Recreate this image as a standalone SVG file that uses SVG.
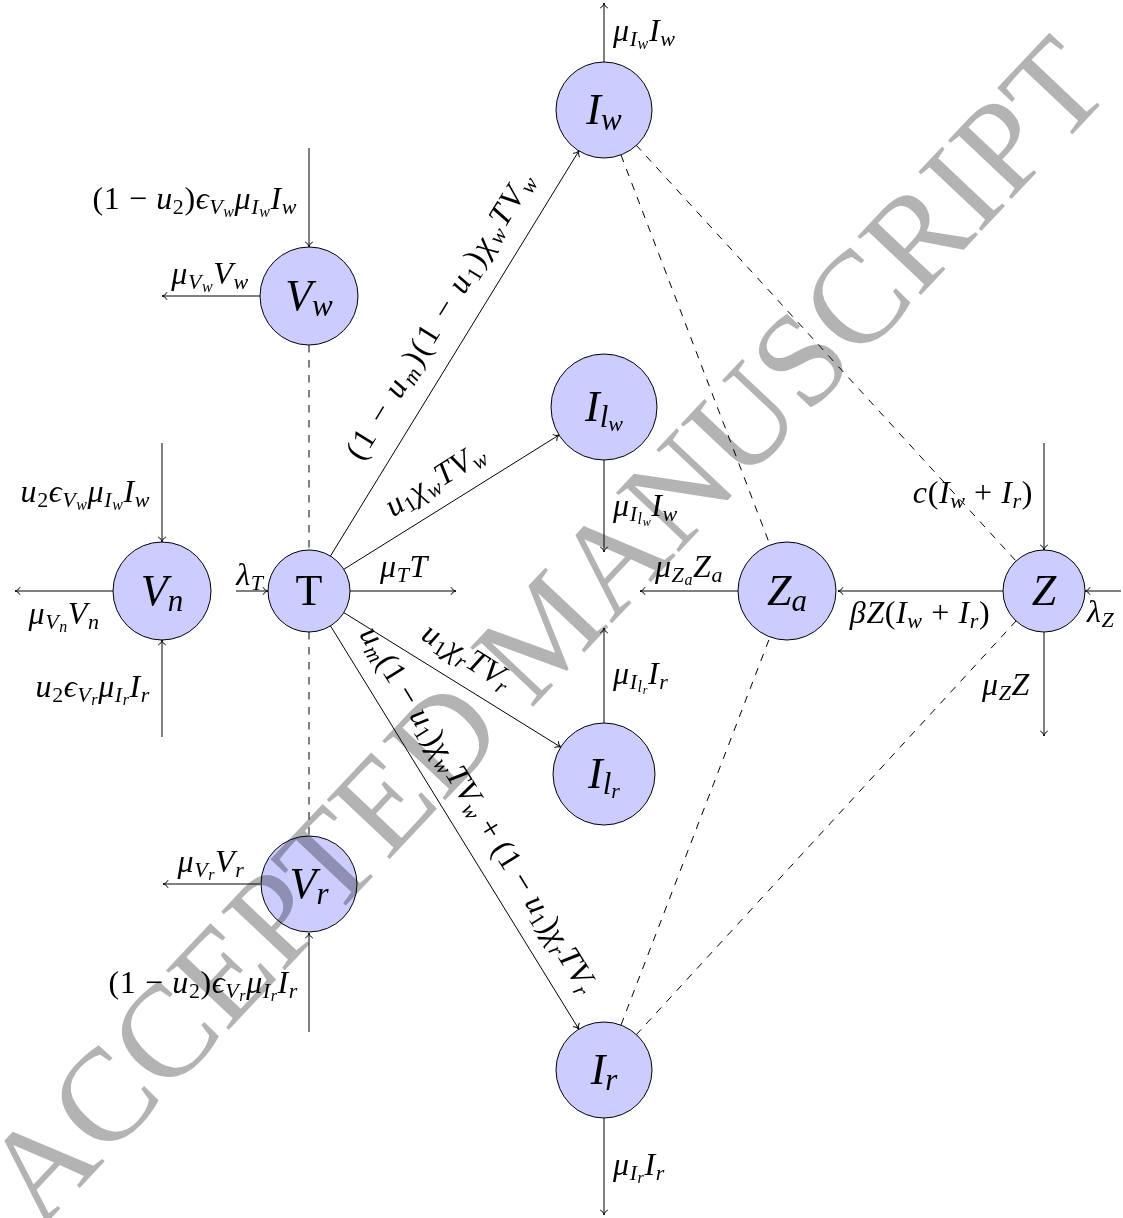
<svg xmlns="http://www.w3.org/2000/svg" width="1123" height="1218" viewBox="0 0 1123 1218">
<style>
.node circle{fill:#ccccff;stroke:#000;stroke-width:1}
.nl{font-family:"Liberation Serif","DejaVu Serif",serif;font-style:italic;font-size:44px;text-anchor:middle;fill:#000}
.ns{font-size:31px}
.nss{font-size:22px}
.m{font-family:"Liberation Serif","DejaVu Serif",serif;font-style:italic;font-size:32px;letter-spacing:0.6px;fill:#000}
.r{font-style:normal}
.s{font-size:22px}
.ss{font-size:16px}
.e{stroke:#000;stroke-width:1;fill:none}
.a{marker-end:url(#ah)}
.d{stroke-dasharray:7.5 7.5}
.wm{font-family:"Liberation Serif","Times New Roman",serif;font-size:132px;fill:#b3b3b3;mix-blend-mode:multiply}
</style>
<defs>
<marker id="ah" markerUnits="userSpaceOnUse" markerWidth="12" markerHeight="12" refX="0" refY="0" orient="auto" overflow="visible">
<path d="M-5,-3.8 C-4,-1.5 -1.5,-0.4 0,0 C-1.5,0.4 -4,1.5 -5,3.8" fill="none" stroke="#000" stroke-width="1"/>
</marker>
</defs>
<rect width="1123" height="1218" fill="#fff"/>
<g id="connectors">
<line class="e a" x1="330.4" y1="556.1" x2="578.9" y2="150.9"/>
<line class="e a" x1="343.8" y1="569.3" x2="559" y2="435"/>
<line class="e a" x1="343.8" y1="612.6" x2="560.7" y2="747.1"/>
<line class="e a" x1="330.5" y1="625.9" x2="578.8" y2="1029.1"/>
<line class="e a" x1="604" y1="62" x2="604" y2="3"/>
<line class="e a" x1="309" y1="148" x2="309" y2="247"/>
<line class="e a" x1="260" y1="296" x2="162" y2="296"/>
<line class="e a" x1="162" y1="443" x2="162" y2="542"/>
<line class="e a" x1="113" y1="591" x2="15" y2="591"/>
<line class="e a" x1="162" y1="737" x2="162" y2="640"/>
<line class="e a" x1="236" y1="591" x2="268" y2="591"/>
<line class="e a" x1="350" y1="591" x2="456" y2="591"/>
<line class="e a" x1="604" y1="460" x2="604" y2="552"/>
<line class="e a" x1="738" y1="591" x2="640" y2="591"/>
<line class="e a" x1="1003" y1="591" x2="838" y2="591"/>
<line class="e a" x1="1044" y1="443" x2="1044" y2="550"/>
<line class="e a" x1="1121" y1="591" x2="1085" y2="591"/>
<line class="e a" x1="1044" y1="632" x2="1044" y2="736"/>
<line class="e a" x1="604" y1="723" x2="604" y2="628"/>
<line class="e a" x1="260" y1="884" x2="163" y2="884"/>
<line class="e a" x1="309" y1="1032" x2="309" y2="933"/>
<line class="e a" x1="604" y1="1118" x2="604" y2="1215"/>
<line class="e d" x1="309" y1="345" x2="309" y2="550"/>
<line class="e d" x1="309" y1="632" x2="309" y2="835"/>
<line class="e d" x1="621" y1="155" x2="770" y2="545"/>
<line class="e d" x1="636" y1="145" x2="1016" y2="561"/>
<line class="e d" x1="621" y1="1025" x2="770" y2="637"/>
<line class="e d" x1="636" y1="1035" x2="1016" y2="621"/>
</g>
<g id="labels">
<text class="m" x="613" y="41">μ<tspan class="s" dy="5">I</tspan><tspan class="ss" dy="3">w</tspan><tspan dy="-8">I</tspan><tspan class="s" dy="5">w</tspan></text>
<text class="m" x="297" y="209" text-anchor="end"><tspan class="r">(1 − </tspan>u<tspan class="s r" dy="5">2</tspan><tspan class="r" dy="-5">)</tspan>ϵ<tspan class="s" dy="5">V</tspan><tspan class="ss" dy="3">w</tspan><tspan dy="-8">μ</tspan><tspan class="s" dy="5">I</tspan><tspan class="ss" dy="3">w</tspan><tspan dy="-8">I</tspan><tspan class="s" dy="5">w</tspan></text>
<text class="m" x="210" y="284" text-anchor="middle">μ<tspan class="s" dy="5">V</tspan><tspan class="ss" dy="3">w</tspan><tspan dy="-8">V</tspan><tspan class="s" dy="5">w</tspan></text>
<text class="m" x="150" y="502" text-anchor="end">u<tspan class="s r" dy="5">2</tspan><tspan dy="-5">ϵ</tspan><tspan class="s" dy="5">V</tspan><tspan class="ss" dy="3">w</tspan><tspan dy="-8">μ</tspan><tspan class="s" dy="5">I</tspan><tspan class="ss" dy="3">w</tspan><tspan dy="-8">I</tspan><tspan class="s" dy="5">w</tspan></text>
<text class="m" x="64" y="624" text-anchor="middle">μ<tspan class="s" dy="5">V</tspan><tspan class="ss" dy="3">n</tspan><tspan dy="-8">V</tspan><tspan class="s" dy="5">n</tspan></text>
<text class="m" x="150" y="697" text-anchor="end">u<tspan class="s r" dy="5">2</tspan><tspan dy="-5">ϵ</tspan><tspan class="s" dy="5">V</tspan><tspan class="ss" dy="3">r</tspan><tspan dy="-8">μ</tspan><tspan class="s" dy="5">I</tspan><tspan class="ss" dy="3">r</tspan><tspan dy="-8">I</tspan><tspan class="s" dy="5">r</tspan></text>
<text class="m" x="250" y="585" text-anchor="middle">λ<tspan class="s" dy="5">T</tspan></text>
<text class="m" x="404" y="577" text-anchor="middle">μ<tspan class="s" dy="5">T</tspan><tspan dy="-5">T</tspan></text>
<text class="m" x="613" y="516">μ<tspan class="s" dy="5">I</tspan><tspan class="ss" dy="3">l</tspan><tspan class="ss" style="font-size:12px" dy="2">w</tspan><tspan dy="-10">I</tspan><tspan class="s" dy="5">w</tspan></text>
<text class="m" x="689" y="577" text-anchor="middle">μ<tspan class="s" dy="5">Z</tspan><tspan class="ss" dy="3">a</tspan><tspan dy="-8">Z</tspan><tspan class="s" dy="5">a</tspan></text>
<text class="m" x="920" y="623" text-anchor="middle">βZ<tspan class="r">(</tspan>I<tspan class="s" dy="5">w</tspan><tspan class="r" dy="-5"> + </tspan>I<tspan class="s" dy="5">r</tspan><tspan class="r" dy="-5">)</tspan></text>
<text class="m" x="1033" y="503" text-anchor="end">c<tspan class="r">(</tspan>I<tspan class="s" dy="5">w</tspan><tspan class="r" dy="-5"> + </tspan>I<tspan class="s" dy="5">r</tspan><tspan class="r" dy="-5">)</tspan></text>
<text class="m" x="1087" y="622">λ<tspan class="s" dy="5">Z</tspan></text>
<text class="m" x="1030" y="695" text-anchor="end">μ<tspan class="s" dy="5">Z</tspan><tspan dy="-5">Z</tspan></text>
<text class="m" x="613" y="684">μ<tspan class="s" dy="5">I</tspan><tspan class="ss" dy="3">l</tspan><tspan class="ss" style="font-size:12px" dy="2">r</tspan><tspan dy="-10">I</tspan><tspan class="s" dy="5">r</tspan></text>
<text class="m" x="211" y="872" text-anchor="middle">μ<tspan class="s" dy="5">V</tspan><tspan class="ss" dy="3">r</tspan><tspan dy="-8">V</tspan><tspan class="s" dy="5">r</tspan></text>
<text class="m" x="298" y="993" text-anchor="end"><tspan class="r">(1 − </tspan>u<tspan class="s r" dy="5">2</tspan><tspan class="r" dy="-5">)</tspan>ϵ<tspan class="s" dy="5">V</tspan><tspan class="ss" dy="3">r</tspan><tspan dy="-8">μ</tspan><tspan class="s" dy="5">I</tspan><tspan class="ss" dy="3">r</tspan><tspan dy="-8">I</tspan><tspan class="s" dy="5">r</tspan></text>
<text class="m" x="613" y="1175">μ<tspan class="s" dy="5">I</tspan><tspan class="ss" dy="3">r</tspan><tspan dy="-8">I</tspan><tspan class="s" dy="5">r</tspan></text>
<text class="m" text-anchor="middle" style="letter-spacing:2.4px" transform="translate(449,320) rotate(-58.49)"><tspan class="r">(1 − </tspan>u<tspan class="s" dy="5">m</tspan><tspan class="r" dy="-5">)(1 − </tspan>u<tspan class="s r" dy="5">1</tspan><tspan class="r" dy="-5">)</tspan>χ<tspan class="s" dy="5">w</tspan><tspan dy="-5">TV</tspan><tspan class="s" dy="5">w</tspan></text>
<text class="m" text-anchor="middle" transform="translate(440.4,487.8) rotate(-31.95)">u<tspan class="s r" dy="5">1</tspan><tspan dy="-5">χ</tspan><tspan class="s" dy="5">w</tspan><tspan dy="-5">TV</tspan><tspan class="s" dy="5">w</tspan></text>
<text class="m" text-anchor="middle" transform="translate(462.1,664.8) rotate(31.81)">u<tspan class="s r" dy="5">1</tspan><tspan dy="-5">χ</tspan><tspan class="s" dy="5">r</tspan><tspan dy="-5">TV</tspan><tspan class="s" dy="5">r</tspan></text>
<text class="m" text-anchor="middle" style="letter-spacing:0.4px" transform="translate(470,815) rotate(58.37)">u<tspan class="s" dy="5">m</tspan><tspan class="r" dy="-5">(1 − </tspan>u<tspan class="s r" dy="5">1</tspan><tspan class="r" dy="-5">)</tspan>χ<tspan class="s" dy="5">w</tspan><tspan dy="-5">TV</tspan><tspan class="s" dy="5">w</tspan><tspan class="r" dy="-5"> + (1 − </tspan>u<tspan class="s r" dy="5">1</tspan><tspan class="r" dy="-5">)</tspan>χ<tspan class="s" dy="5">r</tspan><tspan dy="-5">TV</tspan><tspan class="s" dy="5">r</tspan></text>
</g>
<g id="node-Iw" class="node"><circle cx="604" cy="110" r="48"/><text class="nl" x="604" y="124">I<tspan class="ns" dy="6">w</tspan></text></g>
<g id="node-Vw" class="node"><circle cx="309" cy="296" r="49"/><text class="nl" x="309" y="310">V<tspan class="ns" dy="6">w</tspan></text></g>
<g id="node-Ilw" class="node"><circle cx="604" cy="407" r="53"/><text class="nl" x="604" y="421">I<tspan class="ns" dy="6">l</tspan><tspan class="nss" dy="4">w</tspan></text></g>
<g id="node-Vn" class="node"><circle cx="162" cy="591" r="49"/><text class="nl" x="162" y="605">V<tspan class="ns" dy="6">n</tspan></text></g>
<g id="node-T" class="node"><circle cx="309" cy="591" r="41"/><text class="nl" x="309" y="605" style="font-style:normal">T</text></g>
<g id="node-Za" class="node"><circle cx="787" cy="591" r="49"/><text class="nl" x="787" y="605">Z<tspan class="ns" dy="6">a</tspan></text></g>
<g id="node-Z" class="node"><circle cx="1044" cy="591" r="41"/><text class="nl" x="1044" y="605">Z</text></g>
<g id="node-Ilr" class="node"><circle cx="604" cy="774" r="51"/><text class="nl" x="604" y="788">I<tspan class="ns" dy="6">l</tspan><tspan class="nss" dy="4">r</tspan></text></g>
<g id="node-Vr" class="node"><circle cx="309" cy="884" r="48"/><text class="nl" x="309" y="898">V<tspan class="ns" dy="6">r</tspan></text></g>
<g id="node-Ir" class="node"><circle cx="604" cy="1070" r="48"/><text class="nl" x="604" y="1084">I<tspan class="ns" dy="6">r</tspan></text></g>
<text class="wm" transform="translate(40,1230) rotate(-46.7)">ACCEPTED MANUSCRIPT</text>
</svg>
